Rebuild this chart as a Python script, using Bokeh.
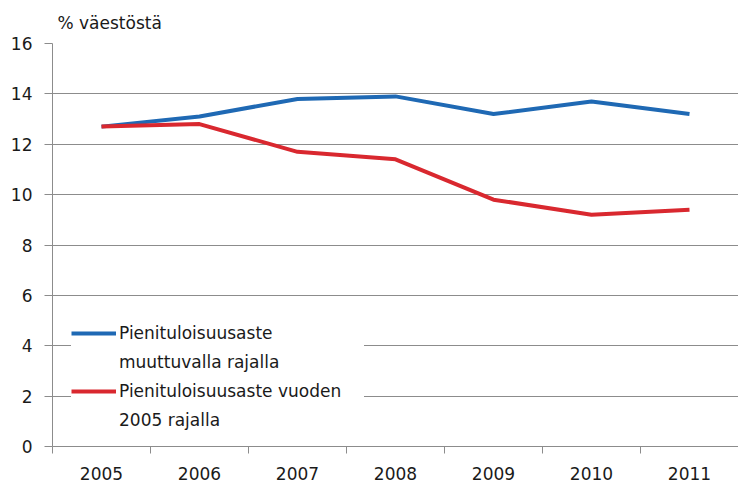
from bokeh.plotting import figure
from bokeh.models import (Range1d, FixedTicker, Legend, LegendItem, Title)
from bokeh.embed import file_html
from bokeh.resources import INLINE

years = ["2005", "2006", "2007", "2008", "2009", "2010", "2011"]
muuttuva = [12.7, 13.1, 13.8, 13.9, 13.2, 13.7, 13.2]
raja2005 = [12.7, 12.8, 11.7, 11.4, 9.8, 9.2, 9.4]
y_ticks = [0, 2, 4, 6, 8, 10, 12, 14, 16]
label_blue = ["Pienituloisuusaste", "muuttuvalla rajalla"]
label_red = ["Pienituloisuusaste vuoden", "2005 rajalla"]
y_title = "% väestöstä"

FONT = "DejaVu Sans"
GRID = "#8c8c8c"
BLUE = "#1f69b4"
RED = "#d9282f"
TXT = "#1a1a1a"

xs = [i + 0.5 for i in range(len(years))]

p = figure(width=738, height=489, output_backend="svg", toolbar_location=None,
           x_range=Range1d(0, len(years)), y_range=Range1d(0, 16),
           min_border_left=52, min_border_right=0, min_border_bottom=43,
           min_border_top=42)
p.outline_line_color = None
p.background_fill_color = "white"

t = Title(text=y_title, align="left", offset=5, text_font=FONT,
          text_font_size="17px", text_font_style="normal", text_color=TXT,
          standoff=21)
p.add_layout(t, "above")

r1 = p.line(xs, muuttuva, line_color=BLUE, line_width=4, line_join="round")
r2 = p.line(xs, raja2005, line_color=RED, line_width=4, line_join="round")
# invisible renderers for second lines of legend labels
d1 = p.line([], [], line_color=BLUE, line_alpha=0)
d2 = p.line([], [], line_color=RED, line_alpha=0)

# x axis
p.xaxis.ticker = FixedTicker(ticks=xs, minor_ticks=list(range(len(years) + 1)))
p.xaxis.major_label_overrides = {x: y for x, y in zip(xs, years)}
p.xaxis.major_tick_line_color = None
p.xaxis.major_tick_out = 0
p.xaxis.major_tick_in = 0
p.xaxis.minor_tick_line_color = GRID
p.xaxis.minor_tick_out = 7
p.xaxis.minor_tick_in = 0
p.xaxis.axis_line_color = GRID
p.xaxis.major_label_standoff = 13
p.xaxis.major_label_text_font = FONT
p.xaxis.major_label_text_font_size = "17px"
p.xaxis.major_label_text_color = TXT

# y axis
p.yaxis.ticker = FixedTicker(ticks=y_ticks)
p.yaxis.minor_tick_line_color = None
p.yaxis.major_tick_line_color = GRID
p.yaxis.major_tick_out = 8
p.yaxis.major_tick_in = 0
p.yaxis.axis_line_color = GRID
p.yaxis.major_label_standoff = 12
p.yaxis.major_label_text_font = FONT
p.yaxis.major_label_text_font_size = "17px"
p.yaxis.major_label_text_color = TXT

p.xgrid.grid_line_color = None
p.ygrid.grid_line_color = GRID
p.ygrid.grid_line_width = 1

legend = Legend(items=[LegendItem(label=label_blue[0], renderers=[r1]),
                       LegendItem(label=label_blue[1], renderers=[d1]),
                       LegendItem(label=label_red[0], renderers=[r2]),
                       LegendItem(label=label_red[1], renderers=[d2])],
                location=(19, 16), border_line_color=None,
                background_fill_color="white", background_fill_alpha=1.0,
                glyph_width=45, glyph_height=18, label_height=18,
                label_width=245,
                label_standoff=3, padding=16, spacing=9, margin=0,
                label_text_font=FONT, label_text_font_size="17px",
                label_text_color=TXT)
p.add_layout(legend, "center")

open("out.html", "w").write(file_html(p, INLINE))
